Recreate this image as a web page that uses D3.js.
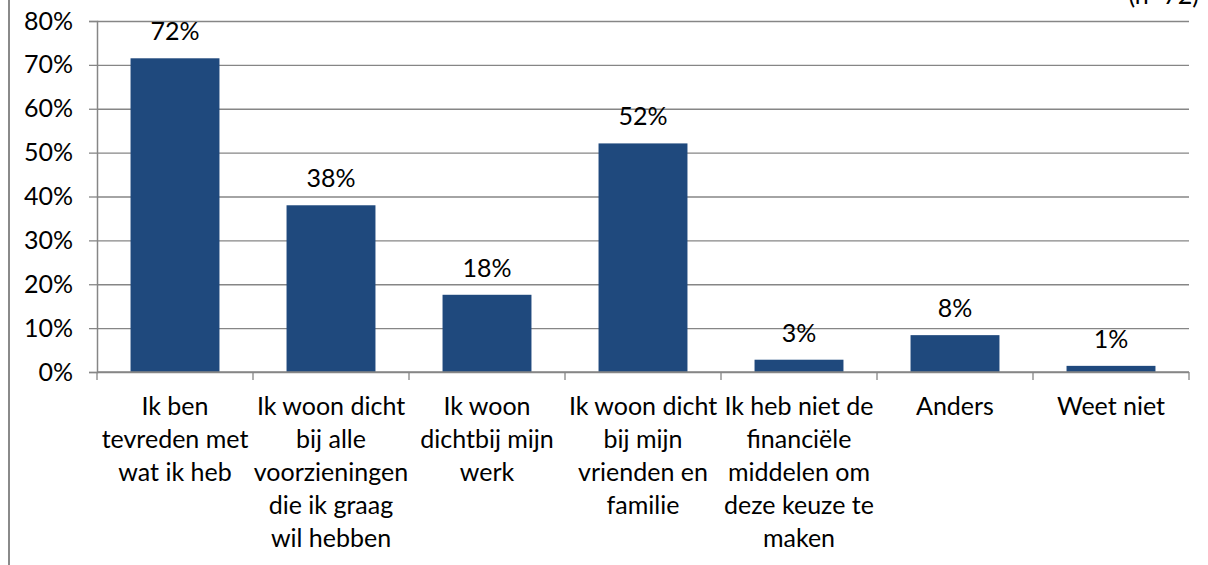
<!DOCTYPE html>
<html>
<head>
<meta charset="utf-8">
<script src="https://cdn.jsdelivr.net/npm/d3@7"></script>
<style>
  html, body { margin: 0; padding: 0; background: #fff; }
  svg { display: block; font-family: Lato, "Open Sans", sans-serif; }
</style>
</head>
<body>
<svg id="chart" width="1208" height="565"></svg>
<script>
const categories = [
  "Ik ben tevreden met wat ik heb",
  "Ik woon dicht bij alle voorzieningen die ik graag wil hebben",
  "Ik woon dichtbij mijn werk",
  "Ik woon dicht bij mijn vrienden en familie",
  "Ik heb niet de financiële middelen om deze keuze te maken",
  "Anders",
  "Weet niet"
];
// wrapped category labels as they appear under the axis
const categoryLines = [
  ["Ik ben", "tevreden met", "wat ik heb"],
  ["Ik woon dicht", "bij alle", "voorzieningen", "die ik graag", "wil hebben"],
  ["Ik woon", "dichtbij mijn", "werk"],
  ["Ik woon dicht", "bij mijn", "vrienden en", "familie"],
  ["Ik heb niet de", "financiële", "middelen om", "deze keuze te", "maken"],
  ["Anders"],
  ["Weet niet"]
];
const values = [0.715, 0.380, 0.176, 0.521, 0.028, 0.084, 0.014];
const yTicks = [0, 0.1, 0.2, 0.3, 0.4, 0.5, 0.6, 0.7, 0.8];
const note = "(n=72)";

const svg = d3.select("#chart");
const plot = { left: 97, right: 1189, top: 21, bottom: 372 };
const gridColor = "#868686";
const fontSize = 25;

// outer frame line on the left
svg.append("line")
  .attr("x1", 9).attr("x2", 9)
  .attr("y1", 0).attr("y2", 565)
  .attr("stroke", "#8a8a8a")
  .attr("stroke-width", 2);

const x = d3.scaleBand()
  .domain(categories)
  .range([plot.left, plot.right])
  .paddingInner(0.43)
  .paddingOuter(0.215);

const y = d3.scaleLinear()
  .domain([0, 0.8])
  .range([plot.bottom, plot.top]);

// gridlines
svg.append("g")
  .attr("transform", `translate(${plot.left},0)`)
  .call(d3.axisLeft(y).tickValues(yTicks).tickSize(-(plot.right - plot.left)).tickFormat(""))
  .call(g => g.select(".domain").remove())
  .call(g => g.selectAll("line").attr("stroke", gridColor).attr("stroke-width", 1.3));

// y axis
svg.append("g")
  .attr("transform", `translate(${plot.left},0)`)
  .call(d3.axisLeft(y).tickValues(yTicks).tickSize(8).tickPadding(16).tickFormat(d3.format(".0%")))
  .call(g => g.select(".domain").attr("stroke", gridColor).attr("stroke-width", 1.5))
  .call(g => g.selectAll("line").attr("stroke", gridColor).attr("stroke-width", 1.3))
  .call(g => g.selectAll("text")
    .attr("fill", "#000")
    .style("font-family", "Lato, sans-serif")
    .style("font-size", fontSize + "px"));

// bars
svg.selectAll(".bar")
  .data(values)
  .enter()
  .append("rect")
  .attr("class", "bar")
  .attr("x", (d, i) => x(categories[i]))
  .attr("y", d => y(d))
  .attr("width", x.bandwidth())
  .attr("height", d => y(0) - y(d))
  .attr("fill", "#1f497d");

// value labels
svg.selectAll(".val")
  .data(values)
  .enter()
  .append("text")
  .attr("class", "val")
  .attr("x", (d, i) => x(categories[i]) + x.bandwidth() / 2)
  .attr("y", d => y(d) - 18)
  .attr("text-anchor", "middle")
  .attr("fill", "#000")
  .style("font-size", fontSize + "px")
  .text(d => d3.format(".0%")(d));

// x axis line with boundary ticks
const bounds = d3.range(categories.length + 1).map(i => plot.left + i * x.step());
const xAxis = svg.append("g");
xAxis.append("line")
  .attr("x1", plot.left).attr("x2", plot.right)
  .attr("y1", y(0)).attr("y2", y(0))
  .attr("stroke", gridColor).attr("stroke-width", 1.5);
xAxis.selectAll(".xtick")
  .data(bounds)
  .enter()
  .append("line")
  .attr("x1", d => d).attr("x2", d => d)
  .attr("y1", y(0)).attr("y2", y(0) + 8)
  .attr("stroke", gridColor).attr("stroke-width", 1.3);

// category labels
const lineHeight = 33;
svg.selectAll(".cat")
  .data(categoryLines)
  .enter()
  .append("text")
  .attr("class", "cat")
  .attr("text-anchor", "middle")
  .attr("fill", "#000")
  .style("font-size", fontSize + "px")
  .each(function (lines, i) {
    const cx = x(categories[i]) + x.bandwidth() / 2;
    d3.select(this).selectAll("tspan")
      .data(lines)
      .enter()
      .append("tspan")
      .attr("x", cx)
      .attr("y", (l, j) => y(0) + 43 + j * lineHeight)
      .text(l => l);
  });

// sample size note, cut off at the top edge
svg.append("text")
  .attr("x", 1199)
  .attr("y", 4)
  .attr("text-anchor", "end")
  .attr("fill", "#000")
  .style("font-size", fontSize + "px")
  .text(note);
</script>
</body>
</html>
